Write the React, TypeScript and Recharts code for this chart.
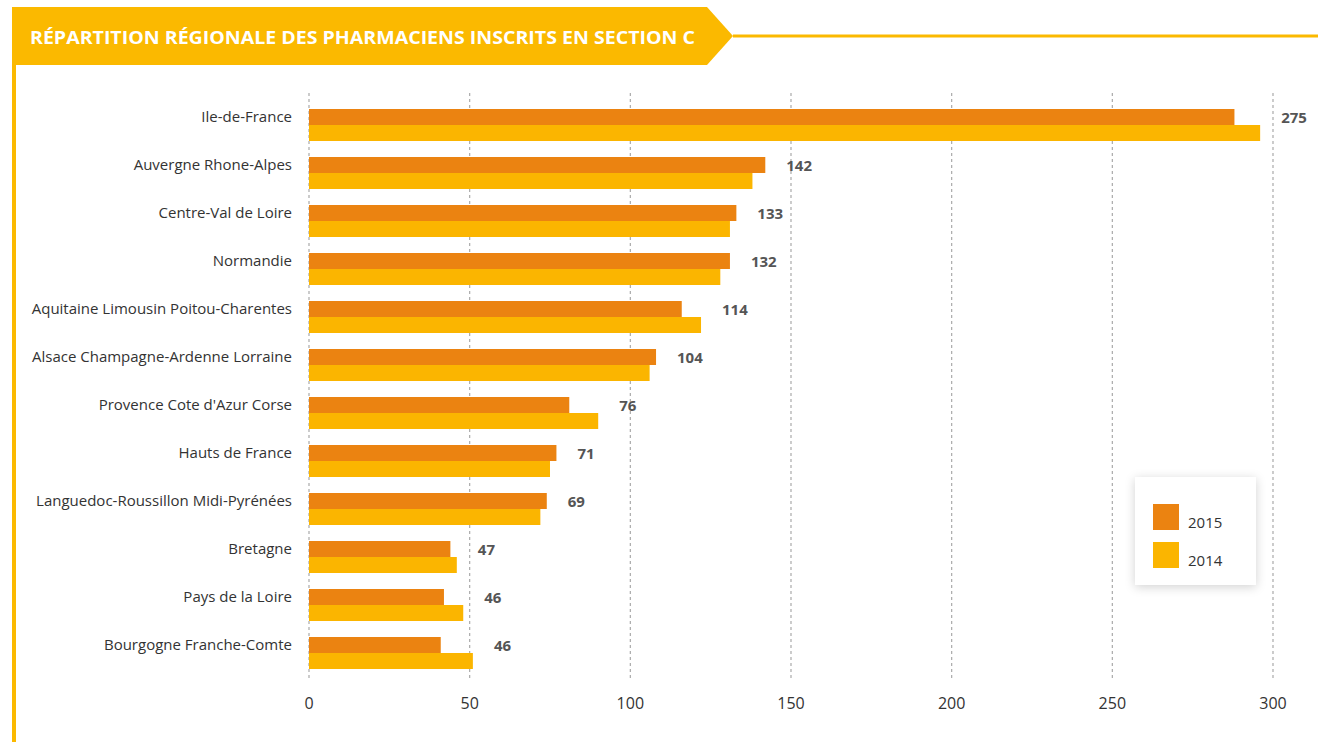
import { Bar, BarChart, CartesianGrid, LabelList, Legend, XAxis, YAxis } from 'recharts';

const regions = [
  'Ile-de-France',
  'Auvergne Rhone-Alpes',
  'Centre-Val de Loire',
  'Normandie',
  'Aquitaine Limousin Poitou-Charentes',
  'Alsace Champagne-Ardenne Lorraine',
  "Provence Cote d'Azur Corse",
  'Hauts de France',
  'Languedoc-Roussillon Midi-Pyrénées',
  'Bretagne',
  'Pays de la Loire',
  'Bourgogne Franche-Comte',
];
const values2015 = [288, 142, 133, 131, 116, 108, 81, 77, 74, 44, 42, 41];
const values2014 = [296, 138, 131, 128, 122, 106, 90, 75, 72, 46, 48, 51];
const labels = ['275', '142', '133', '132', '114', '104', '76', '71', '69', '47', '46', '46'];
const xTicks = [0, 50, 100, 150, 200, 250, 300];

const C2015 = '#EB8311';
const C2014 = '#FBB500';
const FONT = '"Open Sans", sans-serif';

const data = regions.map((region, i) => ({
  region,
  y2015: values2015[i],
  y2014: values2014[i],
}));

// label sits right of the longer of the two bars, centered on the 2015 bar
const ValueLabel = (props: any) => {
  const { x, y, width, height, index } = props;
  const v15 = values2015[index];
  const v14 = values2014[index];
  const maxEnd = x + (width * Math.max(v15, v14)) / v15;
  return (
    <text
      x={maxEnd + 21}
      y={y + height / 2}
      dominantBaseline="central"
      fontFamily={FONT}
      fontWeight={700}
      fontSize={15}
      fill="#555"
    >
      {labels[index]}
    </text>
  );
};

const LegendBox = () => (
  <div
    style={{
      width: 121,
      height: 108,
      background: '#fff',
      boxShadow: '0 2px 10px rgba(0,0,0,0.18)',
      position: 'relative',
      fontFamily: FONT,
      fontSize: 15,
      color: '#333',
    }}
  >
    {[
      { name: '2015', color: C2015, top: 27 },
      { name: '2014', color: C2014, top: 65 },
    ].map((it) => (
      <div key={it.name}>
        <div
          style={{
            position: 'absolute',
            left: 18,
            top: it.top,
            width: 26,
            height: 26,
            background: it.color,
          }}
        />
        <div style={{ position: 'absolute', left: 53, top: it.top + 8, lineHeight: '20px' }}>
          {it.name}
        </div>
      </div>
    ))}
  </div>
);

export default function App() {
  return (
    <div style={{ position: 'absolute', left: 0, top: 0, width: 1318, height: 742, background: '#fff' }}>
      <svg width={1318} height={742} style={{ position: 'absolute', left: 0, top: 0 }}>
        <rect x={12} y={65} width={4} height={677} fill="#FBB900" />
        <rect x={733} y={34.5} width={585} height={3} fill="#FBB900" />
        <polygon points="12,7 707,7 733,36 707,65 12,65" fill="#FBB900" />
        <text
          x={30}
          y={44}
          fill="#fff"
          fontFamily={FONT}
          fontWeight={700}
          fontSize={17}
          textLength={665}
          lengthAdjust="spacingAndGlyphs"
        >
          RÉPARTITION RÉGIONALE DES PHARMACIENS INSCRITS EN SECTION C
        </text>
      </svg>
      <div style={{ position: 'absolute', left: 0, top: 0 }}>
        <BarChart
          width={1318}
          height={742}
          data={data}
          layout="vertical"
          margin={{ top: 93, right: 45, bottom: 32, left: 0 }}
          barSize={16}
          barGap={0}
        >
          <CartesianGrid horizontal={false} stroke="#aaa" strokeDasharray="3 3" strokeWidth={1.2} />
          <XAxis
            type="number"
            domain={[0, 300]}
            ticks={xTicks}
            height={30}
            axisLine={false}
            tickLine={false}
            tickSize={0}
            tickMargin={18}
            tick={{ fontFamily: FONT, fontSize: 16, fill: '#333' }}
          />
          <YAxis
            type="category"
            dataKey="region"
            width={309}
            interval={0}
            axisLine={false}
            tickLine={false}
            tickSize={0}
            tickMargin={17}
            padding={{ top: 8, bottom: 3 }}
            tick={{ fontFamily: FONT, fontSize: 15, fill: '#333', dy: -8 }}
          />
          <Legend
            layout="horizontal"
            verticalAlign="middle"
            align="center"
            content={() => <LegendBox />}
            wrapperStyle={{ left: 1135, top: 477, width: 121, height: 108 }}
          />
          <Bar dataKey="y2015" name="2015" fill={C2015} isAnimationActive={false}>
            <LabelList dataKey="y2015" content={ValueLabel} />
          </Bar>
          <Bar dataKey="y2014" name="2014" fill={C2014} isAnimationActive={false} />
        </BarChart>
      </div>
    </div>
  );
}
